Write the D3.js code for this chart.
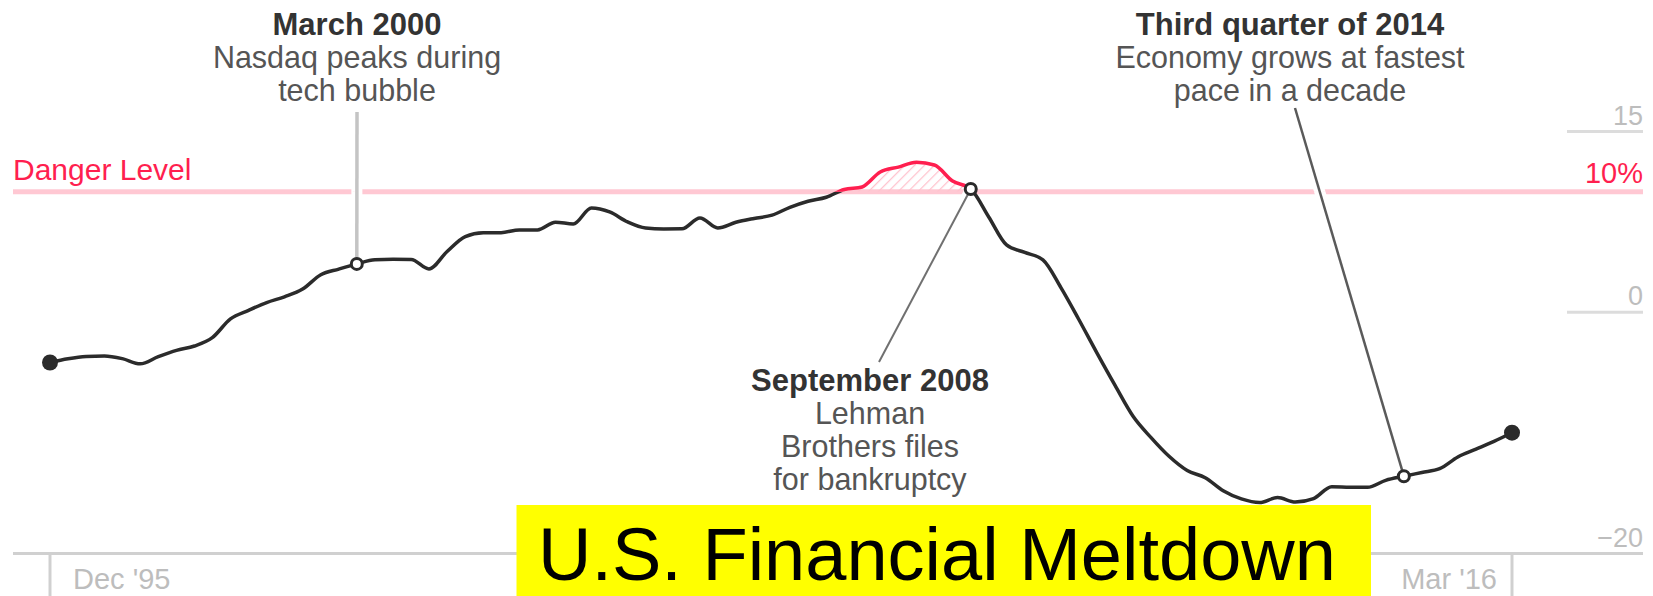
<!DOCTYPE html>
<html>
<head>
<meta charset="utf-8">
<script src="https://cdn.jsdelivr.net/npm/d3@7"></script>
<style>
  body { margin: 0; background: #fff; }
  text { font-family: "Liberation Sans", Arial, Helvetica, sans-serif; }
</style>
</head>
<body>
<script>
// Quarterly readings, Dec '95 through Mar '16 (percent)
let startQuarter = new Date(1995, 11, 1);
let quarterValues = [
    -4.16, -3.85, -3.66, -3.62, -3.84, -4.27, -3.67, -3.15, -2.79, -2.10,
    -0.54, 0.17, 0.81, 1.29, 1.93, 3.12, 3.59, 4.02, 4.36, 4.40,
    4.39, 3.60, 5.05, 6.29, 6.60, 6.61, 6.84, 6.84, 7.48, 7.33,
    8.66, 8.33, 7.50, 7.00, 6.92, 6.93, 7.83, 7.00, 7.47, 7.79,
    8.06, 8.71, 9.22, 9.55, 10.19, 10.40, 11.64, 12.05, 12.45, 12.22,
    10.89, 10.23, 7.91, 5.59, 4.97, 4.35, 2.05, -0.57, -3.36, -6.06,
    -8.62, -10.37, -11.94, -13.12, -13.71, -14.79, -15.47, -15.77, -15.36, -15.73,
    -15.45, -14.46, -14.50, -14.51, -13.93, -13.59, -13.28, -12.97, -12.00, -11.35,
    -10.70, -9.98
];
let dangerLevel = 10;
let yTicks = [15, 0, -20];
let xTickLabels = ["Dec '95", "Mar '16"];
let chartTitle = "U.S. Financial Meltdown";

let annotations = [
    { date: new Date(2000, 2, 1), title: "March 2000", body: ["Nasdaq peaks during", "tech bubble"] },
    { date: new Date(2008, 8, 1), title: "September 2008", body: ["Lehman", "Brothers files", "for bankruptcy"] },
    { date: new Date(2014, 8, 1), title: "Third quarter of 2014", body: ["Economy grows at fastest", "pace in a decade"] }
];

let data = quarterValues.map((v, i) => ({ date: d3.timeMonth.offset(startQuarter, 3 * i), value: v }));

let width = 1653, height = 596;
let red = "#ff1f4f", pink = "#ffc8d3", labelGrey = "#bdbdbd";

let svg = d3.select("body").append("svg")
    .attr("width", width)
    .attr("height", height);

let x = d3.scaleTime()
    .domain(d3.extent(data, d => d.date))
    .range([50, 1512]);
let y = d3.scaleLinear()
    .domain([-20, 15])
    .range([553.5, 131.5]);

let defs = svg.append("defs");
defs.append("clipPath").attr("id", "above")
    .append("rect").attr("x", 0).attr("y", 0).attr("width", width).attr("height", y(dangerLevel));
defs.append("clipPath").attr("id", "below")
    .append("rect").attr("x", 0).attr("y", y(dangerLevel)).attr("width", width).attr("height", height);
let hatch = defs.append("pattern").attr("id", "hatch")
    .attr("patternUnits", "userSpaceOnUse")
    .attr("width", 7).attr("height", 7)
    .attr("patternTransform", "rotate(45)");
hatch.append("line")
    .attr("x1", 0).attr("y1", 0).attr("x2", 0).attr("y2", 7)
    .attr("stroke", "#ffc2cd").attr("stroke-width", 2.5);

// Axis & gridlines
let gridLeft = 1567, gridRight = 1643;
let tickFormat = d3.format("d");
yTicks.forEach(t => {
    svg.append("line")
        .attr("x1", t === -20 ? 13 : gridLeft)
        .attr("x2", gridRight)
        .attr("y1", y(t)).attr("y2", y(t))
        .attr("stroke", t === -20 ? "#d0d0d0" : "#dcdcdc")
        .attr("stroke-width", 3);
    svg.append("text")
        .attr("x", gridRight)
        .attr("y", y(t) - 7)
        .attr("text-anchor", "end")
        .attr("font-size", 27)
        .attr("fill", labelGrey)
        .text(tickFormat(t));
});

// Bottom ticks
let xEnds = d3.extent(data, d => d.date);
xEnds.forEach((d, i) => {
    svg.append("line")
        .attr("x1", x(d)).attr("x2", x(d))
        .attr("y1", y(-20)).attr("y2", height)
        .attr("stroke", "#d0d0d0")
        .attr("stroke-width", 3);
    svg.append("text")
        .attr("x", i === 0 ? x(d) + 23 : x(d) - 15)
        .attr("y", 589)
        .attr("text-anchor", i === 0 ? "start" : "end")
        .attr("font-size", 29)
        .attr("fill", labelGrey)
        .text(xTickLabels[i]);
});

// Danger level
svg.append("line")
    .attr("x1", 13).attr("x2", gridRight)
    .attr("y1", y(dangerLevel)).attr("y2", y(dangerLevel))
    .attr("stroke", pink)
    .attr("stroke-width", 5);
svg.append("text")
    .attr("x", 13).attr("y", 180)
    .attr("font-size", 30)
    .attr("fill", red)
    .text("Danger Level");
svg.append("text")
    .attr("x", gridRight).attr("y", 183)
    .attr("text-anchor", "end")
    .attr("font-size", 29)
    .attr("fill", red)
    .text(dangerLevel + "%");

// Annotation layout
let annoLayout = [
    { textX: 357, titleY: 35, leaderEnd: [357, 112], stroke: "#c4c4c4", strokeWidth: 3.5 },
    { textX: 870, titleY: 391, leaderEnd: [879, 362], stroke: "#707070", strokeWidth: 2 },
    { textX: 1290, titleY: 35, leaderEnd: [1295, 108], stroke: "#5a5a5a", strokeWidth: 2.5 }
];
let findValue = date => data.find(d => +d.date === +date).value;

// Leader halos, leaders and labels
annotations.forEach((a, i) => {
    let lay = annoLayout[i];
    let px = x(a.date), py = y(findValue(a.date));
    svg.append("line")
        .attr("x1", px).attr("y1", py)
        .attr("x2", lay.leaderEnd[0]).attr("y2", lay.leaderEnd[1])
        .attr("stroke", "#fff")
        .attr("stroke-width", 11);
    svg.append("line")
        .attr("x1", px).attr("y1", py)
        .attr("x2", lay.leaderEnd[0]).attr("y2", lay.leaderEnd[1])
        .attr("stroke", lay.stroke)
        .attr("stroke-width", lay.strokeWidth);
    let g = svg.append("g").attr("text-anchor", "middle");
    g.append("text")
        .attr("x", lay.textX).attr("y", lay.titleY)
        .attr("font-size", 31)
        .attr("font-weight", "bold")
        .attr("fill", "#333")
        .text(a.title);
    a.body.forEach((line, j) => {
        g.append("text")
            .attr("x", lay.textX).attr("y", lay.titleY + 33 * (j + 1))
            .attr("font-size", 30.5)
            .attr("fill", "#555")
            .text(line);
    });
});

// Hatched area above danger level
let area = d3.area()
    .x(d => x(d.date))
    .y0(y(dangerLevel))
    .y1(d => y(d.value))
    .curve(d3.curveMonotoneX);
svg.append("path")
    .datum(data)
    .attr("d", area)
    .attr("fill", "url(#hatch)")
    .attr("clip-path", "url(#above)");

// Data line: black below the danger level, red above it
let line = d3.line()
    .x(d => x(d.date))
    .y(d => y(d.value))
    .curve(d3.curveMonotoneX);
svg.append("path")
    .datum(data)
    .attr("d", line)
    .attr("fill", "none")
    .attr("stroke", "#2b2b2b")
    .attr("stroke-width", 3.5)
    .attr("stroke-linejoin", "round")
    .attr("clip-path", "url(#below)");
svg.append("path")
    .datum(data)
    .attr("d", line)
    .attr("fill", "none")
    .attr("stroke", red)
    .attr("stroke-width", 3.5)
    .attr("stroke-linejoin", "round")
    .attr("clip-path", "url(#above)");

// End dots
[data[0], data[data.length - 1]].forEach(d => {
    svg.append("circle")
        .attr("cx", x(d.date)).attr("cy", y(d.value))
        .attr("r", 8)
        .attr("fill", "#2b2b2b");
});

// Annotation markers
annotations.forEach(a => {
    svg.append("circle")
        .attr("cx", x(a.date)).attr("cy", y(findValue(a.date)))
        .attr("r", 5.5)
        .attr("fill", "#fff")
        .attr("stroke", "#2b2b2b")
        .attr("stroke-width", 3);
});

// Title box
svg.append("rect")
    .attr("x", 516.5).attr("y", 505)
    .attr("width", 854.5).attr("height", height - 505)
    .attr("fill", "#ffff00");
svg.append("text")
    .attr("x", 538).attr("y", 580)
    .attr("font-size", 74)
    .attr("fill", "#000")
    .text(chartTitle);
</script>
</body>
</html>
